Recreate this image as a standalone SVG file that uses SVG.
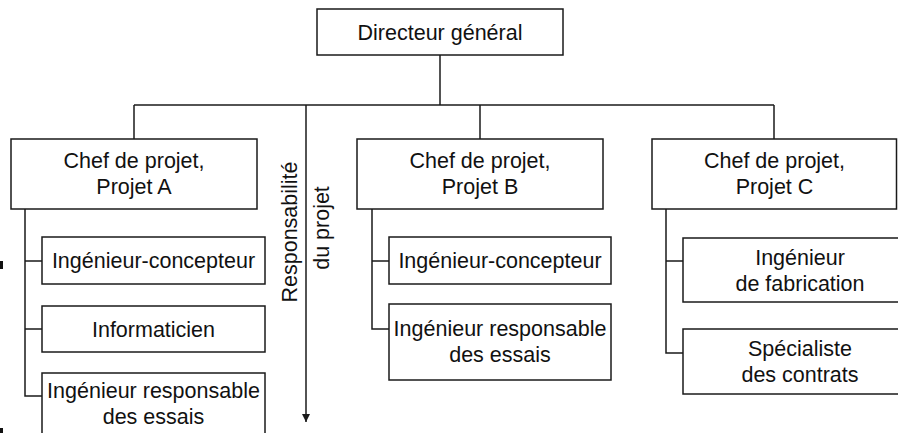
<svg xmlns="http://www.w3.org/2000/svg" width="898" height="433" viewBox="0 0 898 433">
  <defs>
    <style>
      .box { fill: #ffffff; stroke: #1a1a1a; stroke-width: 1.5; }
      .conn { fill: none; stroke: #1a1a1a; stroke-width: 1.5; }
      .lbl { font-family: "Liberation Sans", Arial, sans-serif; font-size: 21.5px; fill: #111111; text-anchor: middle; }
    </style>
    <marker id="arrow" viewBox="0 0 10 10" refX="10" refY="5" markerWidth="10" markerHeight="8" markerUnits="userSpaceOnUse" orient="auto">
      <path d="M0,0 L10,5 L0,10 Z" fill="#1a1a1a"/>
    </marker>
  </defs>
  <rect width="898" height="433" fill="#ffffff"/>

  <g id="connectors">
    <path class="conn" d="M440,55 V105"/>
    <path class="conn" d="M134,105 H774"/>
    <path class="conn" d="M134,105 V139"/>
    <path class="conn" d="M480,105 V139"/>
    <path class="conn" d="M774,105 V139"/>
    <path class="conn" d="M25,209 V396 H42 M25,261 H42 M25,329 H42"/>
    <path class="conn" d="M372,209 V329 H389 M372,261 H389"/>
    <path class="conn" d="M666,209 V353 H683 M666,261 H683"/>
    <path class="conn" d="M306,105 V422" marker-end="url(#arrow)"/>
  </g>

  <g id="crop-marks">
    <rect x="0" y="261" width="3" height="8" fill="#111111"/>
    <rect x="0" y="428" width="3" height="5" fill="#111111"/>
  </g>

  <g id="directeur">
    <rect class="box" x="317" y="9" width="246" height="46"/>
    <text class="lbl" x="440" y="40">Directeur général</text>
  </g>

  <g id="chef-a">
    <rect class="box" x="11" y="139" width="246" height="70"/>
    <text class="lbl" x="134" y="168">Chef de projet,</text>
    <text class="lbl" x="134" y="194">Projet A</text>
  </g>
  <g id="chef-b">
    <rect class="box" x="357" y="139" width="246" height="70"/>
    <text class="lbl" x="480" y="168">Chef de projet,</text>
    <text class="lbl" x="480" y="194">Projet B</text>
  </g>
  <g id="chef-c">
    <rect class="box" x="652" y="139" width="244.5" height="70"/>
    <text class="lbl" x="774.5" y="168">Chef de projet,</text>
    <text class="lbl" x="774.5" y="194">Projet C</text>
  </g>

  <g id="a-ingenieur-concepteur">
    <rect class="box" x="42" y="237" width="223" height="47"/>
    <text class="lbl" x="153.5" y="268">Ingénieur-concepteur</text>
  </g>
  <g id="a-informaticien">
    <rect class="box" x="42" y="306" width="223" height="46"/>
    <text class="lbl" x="153.5" y="337">Informaticien</text>
  </g>
  <g id="a-ingenieur-essais">
    <rect class="box" x="42" y="373" width="223" height="70"/>
    <text class="lbl" x="153.5" y="398">Ingénieur responsable</text>
    <text class="lbl" x="153.5" y="424">des essais</text>
  </g>

  <g id="b-ingenieur-concepteur">
    <rect class="box" x="389" y="237" width="222" height="47"/>
    <text class="lbl" x="500" y="268">Ingénieur-concepteur</text>
  </g>
  <g id="b-ingenieur-essais">
    <rect class="box" x="389" y="304" width="222" height="76"/>
    <text class="lbl" x="500" y="336">Ingénieur responsable</text>
    <text class="lbl" x="500" y="362">des essais</text>
  </g>

  <g id="c-ingenieur-fabrication">
    <rect class="box" x="683" y="238" width="240" height="64"/>
    <text class="lbl" x="800" y="265">Ingénieur</text>
    <text class="lbl" x="800" y="291">de fabrication</text>
  </g>
  <g id="c-specialiste-contrats">
    <rect class="box" x="683" y="329" width="240" height="65"/>
    <text class="lbl" x="800" y="356">Spécialiste</text>
    <text class="lbl" x="800" y="382">des contrats</text>
  </g>

  <g id="responsabilite-label">
    <text class="lbl" transform="translate(297,232) rotate(-90)">Responsabilité</text>
    <text class="lbl" transform="translate(329,228) rotate(-90)">du projet</text>
  </g>
</svg>
